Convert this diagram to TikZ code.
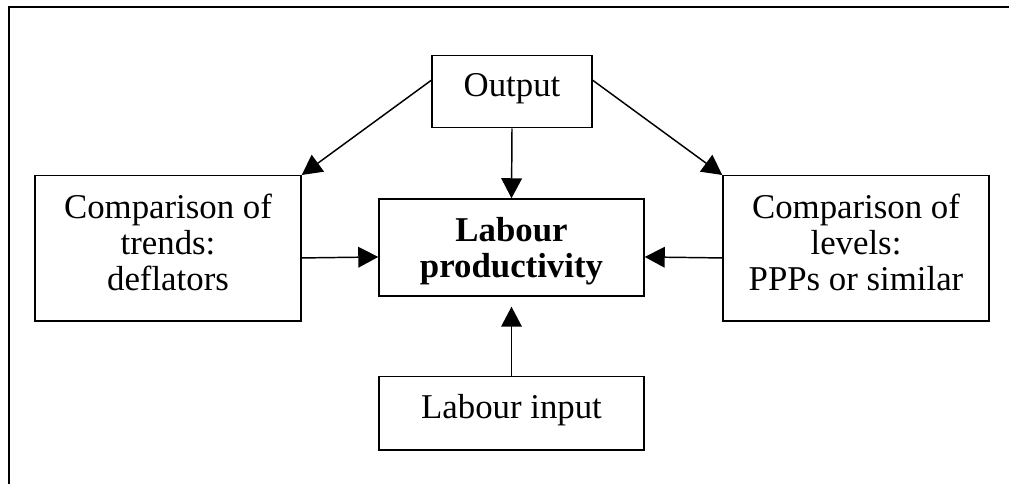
\documentclass[tikz,border=0pt]{standalone}
\usepackage{fontspec}
\setmainfont{Liberation Serif}
\usetikzlibrary{arrows.meta}
\newcommand{\boxfoot}{\rule[-9.75pt]{0pt}{9.75pt}}
\tikzset{block/.style = {draw, line width=1.1pt, rectangle, align=center, inner xsep=4pt, inner ysep=13.5pt, minimum width=199.5pt, anchor=north, font=\fontsize{26.1pt}{27pt}\selectfont},
         cblock/.style = {block, anchor=center, inner ysep=0pt, minimum width=198.75pt, minimum height=72.75pt, font=\fontsize{26.1pt}{27pt}\selectfont\bfseries},
         arr/.style = {-{Triangle[length=15pt,width=15.5pt]}, line width=1.1pt}}
\begin{document}
\begin{tikzpicture}[x=0.75pt,y=0.75pt]
        \useasboundingbox(0,0)rectangle(1009,484);
        \draw[line width=1.7pt](9,0)--(9,476.7)--(1009,476.7);
        \node[block,minimum width=120pt](out)at(512,429){Output\boxfoot};
        \node[block](lt)at(168,309){Comparison of\\trends:\\deflators\boxfoot};
        \node[block](rt)at(856,309){Comparison of\\levels:\\PPPs or similar\boxfoot};
        \node[cblock](prod)at(511.5,236.5){Labour\\\smash{productivity}};
        \node[block,minimum width=198.75pt](inp)at(511.5,108){Labour input\boxfoot};
        \draw[arr]([yshift=8.6pt]out.west)--(lt.north east);
        \draw[arr]([yshift=8.6pt]out.east)--(rt.north west);
        \draw[arr](out.south)--(prod.north);
        \draw[arr]([yshift=-7.1pt]lt.east)--([yshift=-7.1pt]prod.west);
        \draw[arr]([yshift=-7.1pt]rt.west)--([yshift=-7.1pt]prod.east);
        \draw[arr,shorten >=7.5pt](inp.north)--(prod.south);
\end{tikzpicture}
\end{document}
